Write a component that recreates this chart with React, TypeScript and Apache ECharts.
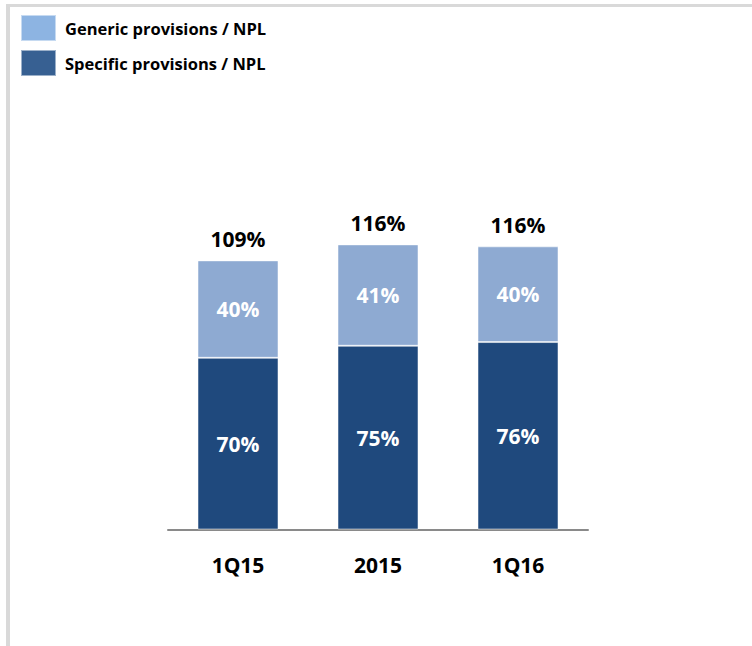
import React, { useEffect, useRef } from "react";
import * as echarts from "echarts";

const categories = ["1Q15", "2015", "1Q16"];
const specificValues = [69.8, 74.7, 76.2];
const genericValues = [39.6, 41.2, 38.9];
const specificLabels = ["70%", "75%", "76%"];
const genericLabels = ["40%", "41%", "40%"];
const totalLabels = ["109%", "116%", "116%"];

const FONT = "'Open Sans', Lato, sans-serif";

export default function App() {
  const ref = useRef<HTMLDivElement>(null);
  useEffect(() => {
    if (!ref.current) return;
    const chart = echarts.init(ref.current, undefined, { renderer: "svg" });
    const totals = specificValues.map((v, i) => v + genericValues[i]);
    chart.setOption({
      animation: false,
      backgroundColor: "#ffffff",
      graphic: [
        { type: "rect", shape: { x: 6, y: 4, width: 746, height: 3 }, style: { fill: "#d9d9d9" }, silent: true },
        { type: "rect", shape: { x: 6, y: 4, width: 4, height: 642 }, style: { fill: "#d9d9d9" }, silent: true },
      ],
      legend: {
        orient: "vertical",
        left: 20,
        top: 14,
        padding: 0,
        itemWidth: 35,
        itemHeight: 26,
        itemGap: 7,
        icon: "rect",
        selectedMode: false,
        textStyle: { fontFamily: FONT, fontWeight: "bold", fontSize: 16.5, color: "#000", padding: [0, 0, 0, 4] },
        data: [
          { name: "Generic provisions / NPL", itemStyle: { color: "#8DB4E2" } },
          { name: "Specific provisions / NPL", itemStyle: { color: "#376092" } },
        ],
      },
      grid: { left: 168, right: 164, top: 160.5, bottom: 116.5 },
      xAxis: {
        type: "category",
        data: categories,
        axisLine: { lineStyle: { color: "#8a8a8a", width: 2 } },
        axisTick: { show: false },
        axisLabel: { fontFamily: FONT, fontWeight: "bold", fontSize: 21, color: "#000", margin: 25 },
      },
      yAxis: {
        type: "value",
        min: 0,
        max: 150,
        show: false,
        splitLine: { show: false },
      },
      series: [
        {
          name: "Specific provisions / NPL",
          type: "bar",
          stack: "total",
          barWidth: 81,
          data: specificValues,
          itemStyle: { color: "#1F497D", borderColor: "rgba(255,255,255,0.5)", borderWidth: 1 },
          label: {
            show: true,
            position: "inside",
            fontFamily: FONT,
            fontWeight: "bold",
            fontSize: 21,
            color: "#fff",
            formatter: (p: any) => specificLabels[p.dataIndex],
          },
        },
        {
          name: "Generic provisions / NPL",
          type: "bar",
          stack: "total",
          barWidth: 81,
          data: genericValues,
          itemStyle: { color: "#8EAAD2", borderColor: "rgba(255,255,255,0.5)", borderWidth: 1 },
          label: {
            show: true,
            position: "inside",
            fontFamily: FONT,
            fontWeight: "bold",
            fontSize: 21,
            color: "#fff",
            formatter: (p: any) => genericLabels[p.dataIndex],
          },
        },
        {
          name: "totals",
          type: "scatter",
          data: totals,
          symbolSize: 0,
          silent: true,
          itemStyle: { color: "rgba(0,0,0,0)", opacity: 1 },
          label: {
            show: true,
            position: "top",
            distance: 11,
            fontFamily: FONT,
            fontWeight: "bold",
            fontSize: 21,
            color: "#000",
            opacity: 1,
            formatter: (p: any) => totalLabels[p.dataIndex],
          },
        },
      ],
    });
    return () => chart.dispose();
  }, []);
  return (
    <div
      ref={ref}
      style={{ position: "fixed", left: 0, top: 0, width: 752, height: 646 }}
    />
  );
}
